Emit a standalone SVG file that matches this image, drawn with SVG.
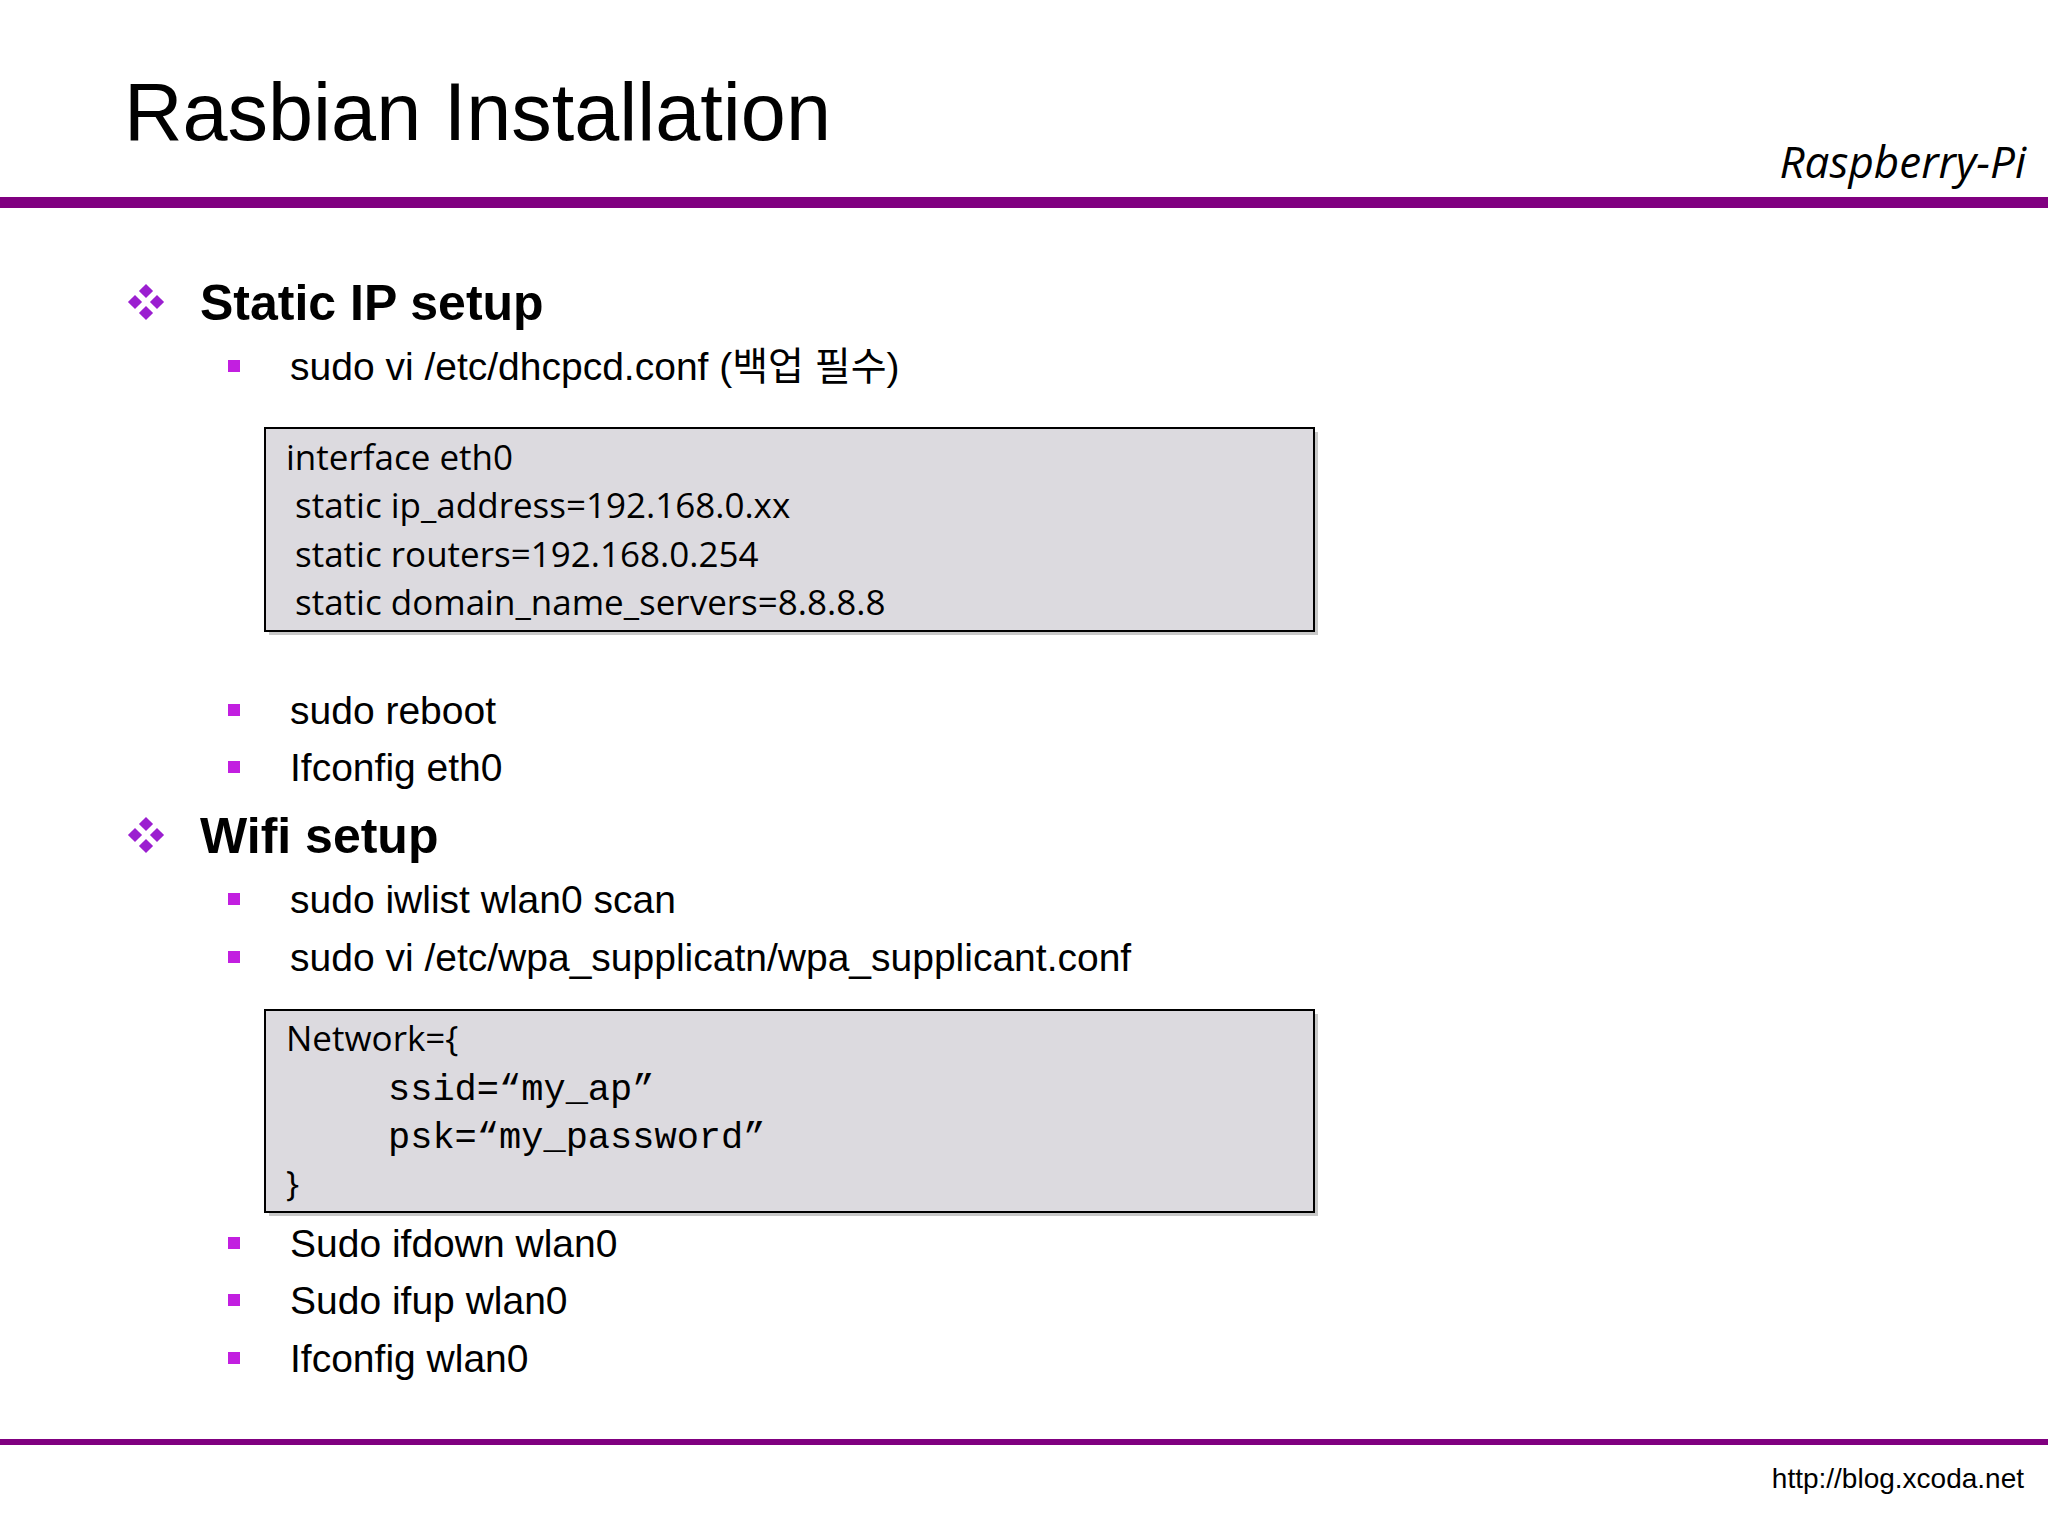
<svg xmlns="http://www.w3.org/2000/svg" width="2048" height="1536" viewBox="0 0 2048 1536">
<defs>
<style>
.t{font-family:"Liberation Sans",Arial,sans-serif;fill:#000}
.h{font-family:"Liberation Sans",Arial,sans-serif;font-weight:bold;font-size:50px}
.b{font-family:"Liberation Sans","Noto Sans CJK KR",sans-serif;font-size:39px}
.c{font-family:"Open Sans",sans-serif;font-size:35px}
.m{font-family:"Liberation Mono",monospace;font-size:37px}
.box{fill:#dcdadf;stroke:#000;stroke-width:2}
.sq{fill:#c21fe0}
</style>
<g id="dia">
<rect x="-5" y="-5" width="10" height="10" transform="rotate(45)" fill="#9b1fd0"/>
</g>
<g id="bul">
<use href="#dia" x="0" y="-11"/><use href="#dia" x="-11" y="0"/><use href="#dia" x="11" y="0"/><use href="#dia" x="0" y="11"/>
</g>
</defs>
<rect width="2048" height="1536" fill="#fff"/>
<g id="header">
<text x="124" y="140" class="t" font-size="81">Rasbian Installation</text>
<text x="2026" y="178" text-anchor="end" font-family="Open Sans,sans-serif" font-style="italic" font-size="44">Raspberry-Pi</text>
<rect x="0" y="197" width="2048" height="11" fill="#800080"/>
</g>
<g id="static">
<use href="#bul" x="146" y="302"/>
<text x="200" y="320" class="h">Static IP setup</text>
<rect class="sq" x="228" y="360" width="12" height="12"/>
<text x="290" y="380" class="b">sudo vi /etc/dhcpcd.conf  (백업 필수)</text>
<rect x="269" y="432" width="1049" height="203" fill="#c8c8c8"/>
<rect class="box" x="265" y="428" width="1049" height="203"/>
<text x="286" y="470" class="c">interface eth0</text>
<text x="295" y="518" class="c">static ip_address=192.168.0.xx</text>
<text x="295" y="567" class="c">static routers=192.168.0.254</text>
<text x="295" y="615" class="c">static domain_name_servers=8.8.8.8</text>
<rect class="sq" x="228" y="704" width="12" height="12"/>
<text x="290" y="724" class="b">sudo reboot</text>
<rect class="sq" x="228" y="761" width="12" height="12"/>
<text x="290" y="781" class="b">Ifconfig eth0</text>
</g>
<g id="wifi">
<use href="#bul" x="146" y="835"/>
<text x="200" y="853" class="h">Wifi setup</text>
<rect class="sq" x="228" y="893" width="12" height="12"/>
<text x="290" y="913" class="b">sudo iwlist wlan0 scan</text>
<rect class="sq" x="228" y="951" width="12" height="12"/>
<text x="290" y="971" class="b">sudo vi /etc/wpa_supplicatn/wpa_supplicant.conf</text>
<rect x="269" y="1014" width="1049" height="202" fill="#c8c8c8"/>
<rect class="box" x="265" y="1010" width="1049" height="202"/>
<text x="286" y="1051" class="c">Network={</text>
<text x="388" y="1100" class="m">ssid=“my_ap”</text>
<text x="388" y="1148" class="m">psk=“my_password”</text>
<text x="286" y="1196" class="c">}</text>
<rect class="sq" x="228" y="1237" width="12" height="12"/>
<text x="290" y="1257" class="b">Sudo ifdown wlan0</text>
<rect class="sq" x="228" y="1294" width="12" height="12"/>
<text x="290" y="1314" class="b">Sudo ifup wlan0</text>
<rect class="sq" x="228" y="1352" width="12" height="12"/>
<text x="290" y="1372" class="b">Ifconfig wlan0</text>
</g>
<g id="footer">
<rect x="0" y="1439" width="2048" height="6" fill="#800080"/>
<text x="2024" y="1488" text-anchor="end" class="t" font-size="28">http://blog.xcoda.net</text>
</g>
</svg>
